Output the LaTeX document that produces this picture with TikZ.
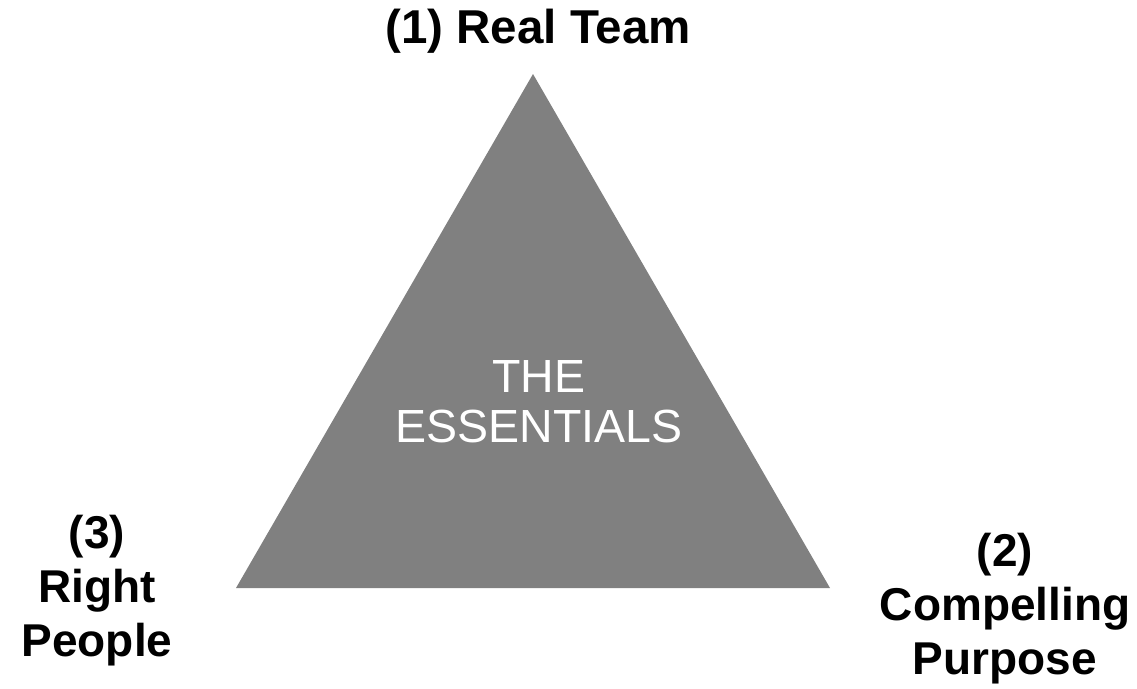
\documentclass[tikz,border=0pt]{standalone}
\usepackage{fontspec}
\setmainfont{Liberation Sans}
\usetikzlibrary{positioning}
\definecolor{essgray}{HTML}{808080}

\begin{document}
\begin{tikzpicture}[
  x=1pt, y=-1pt,
  corner/.style={font=\bfseries\fontsize{46}{54}\selectfont,align=center,inner sep=0pt},
  core/.style={font=\fontsize{46.5}{50}\selectfont,text=white,align=center,inner sep=0pt},
]
  \useasboundingbox (0,0) rectangle (1137,688);

  % Triangle corners
  \coordinate (apex) at (533,74);
  \coordinate (left) at (236,588);
  \coordinate (right) at (830,588);
  \fill[essgray] (apex) -- (right) -- (left) -- cycle;

  % Centre text
  \node[core] (essentials) at (539,402) {THE\\ESSENTIALS};

  % Corner labels
  \node[corner,anchor=base,font=\bfseries\fontsize{47.5}{54}\selectfont] (team) at (538,43) {(1) Real Team};
  \node[corner] (purpose) at (1005,609) {(2)\\Compelling\\Purpose};
  \node[corner] (people) at (97,591) {(3)\\Right\\People};
\end{tikzpicture}
\end{document}
